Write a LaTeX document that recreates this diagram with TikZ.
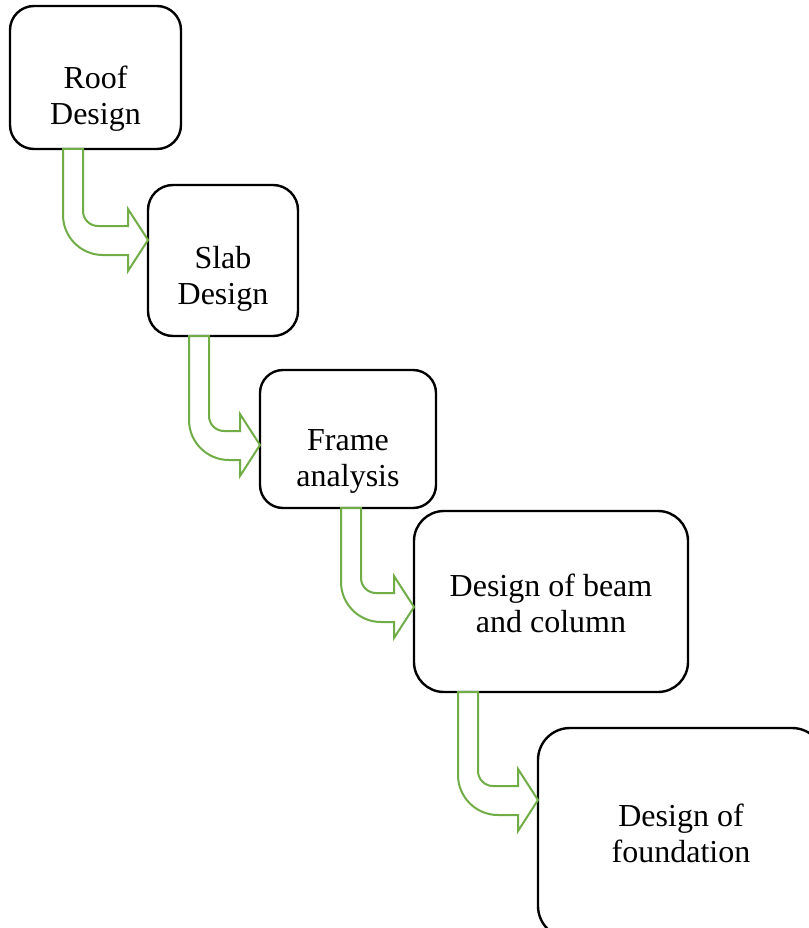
\documentclass[tikz,border=0pt]{standalone}
\usepackage{fontspec}
\setmainfont{Liberation Serif}
\usepackage{xcolor}
\usepackage{tikz}
\usetikzlibrary{calc,positioning}
\definecolor{arrowgreen}{HTML}{70AD47}
\tikzset{bent arrow/.style={draw=arrowgreen, line width=2pt, fill=white, line join=miter}}

% hollow arrow: down out of #1, bends right into #2
% #3 = shaft left edge back from #2's west side, #4 = tip below #2's top
\newcommand{\bentarrow}[4]{%
	\draw[bent arrow] let \p1=(#1.south), \p2=(#2.north west),
		\n1={\x2-#3}, \n2={\y2-#4} in
		(\n1,\y1) -- (\n1+20,\y1) -- (\n1+20,\n2+29)
		arc[start angle=180, end angle=270, radius=15pt]
		-- (\x2-20,\n2+14) -- (\x2-20,\n2+31) -- (\x2,\n2)
		-- (\x2-20,\n2-31) -- (\x2-20,\n2-15) -- (\n1+40,\n2-15)
		arc[start angle=270, end angle=180, radius=40pt] -- cycle;
}

\begin{document}
\begin{tikzpicture}[x=1pt, y=-1pt]
	\tikzstyle{stepbox}=[draw=black, line width=2.4pt, fill=white, outer sep=0pt, inner sep=0pt]
	\tikzstyle{steptext}=[align=center, inner sep=0pt, font=\fontsize{32}{36}\selectfont]

	\useasboundingbox (0,0) rectangle (808,928);

	\node[stepbox, minimum width=171, minimum height=143, rounded corners=24,
		label={[steptext, yshift=-21]center:Roof\\Design}] (roof) at (95.5,77.5) {};
	\node[stepbox, minimum width=150, minimum height=151, rounded corners=25,
		label={[steptext, yshift=-18]center:Slab\\Design}] (slab) at (223,260.5) {};
	\node[stepbox, minimum width=176, minimum height=138, rounded corners=23,
		label={[steptext, yshift=-22]center:Frame\\analysis}] (frame) at (348,439) {};
	\node[stepbox, minimum width=274, minimum height=181, rounded corners=30,
		label={[steptext, yshift=-2]center:Design of beam\\and column}] (beam-column) at (551,601.5) {};
	\node[stepbox, minimum width=286, minimum height=210, rounded corners=32,
		label={[steptext]center:Design of\\foundation}] (foundation) at (681,833) {};

	\bentarrow{roof}{slab}{85}{55}
	\bentarrow{slab}{frame}{71}{75}
	\bentarrow{frame}{beam-column}{73}{96}
	\bentarrow{beam-column}{foundation}{80}{72}

\end{tikzpicture}
\end{document}
